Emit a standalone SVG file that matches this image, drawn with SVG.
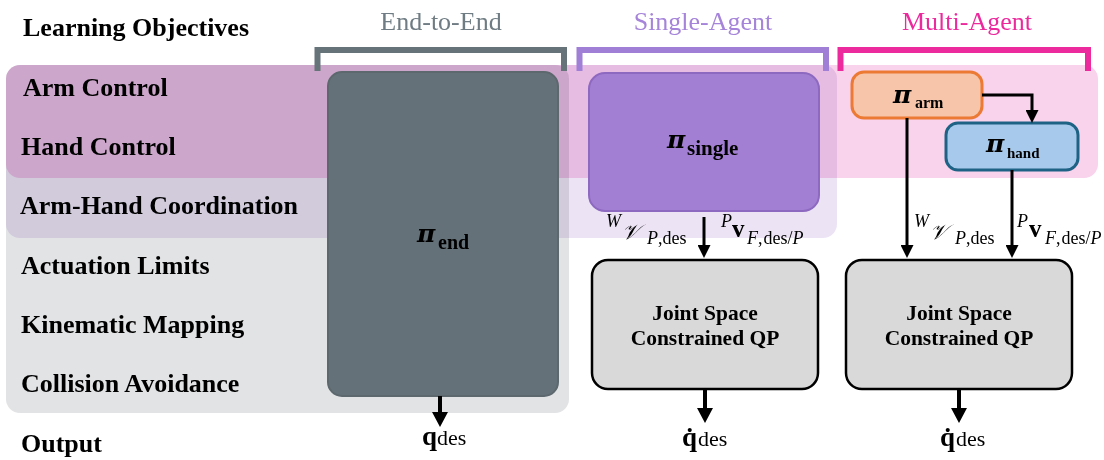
<svg xmlns="http://www.w3.org/2000/svg" width="1104" height="460" viewBox="0 0 1104 460">
<style>
.lab{font-family:"Liberation Serif",serif;font-weight:bold;font-size:26px;fill:#000}
.hdr{font-family:"Liberation Serif",serif;font-size:26px;text-anchor:middle}
.pi{font-family:"DejaVu Serif",serif;font-weight:bold;font-style:italic;font-size:25px}
.ps{font-family:"Liberation Serif",serif;font-weight:bold}
.qp{font-family:"Liberation Serif",serif;font-weight:bold;font-size:21.5px;text-anchor:middle}
.sup{font-family:"Liberation Serif",serif;font-style:italic;font-size:18px}
.sub{font-family:"Liberation Serif",serif;font-size:18px}
.it{font-style:italic}
.cal{font-family:"DejaVu Serif",serif;font-style:italic;font-size:21px}
.bv{font-family:"Liberation Serif",serif;font-weight:bold;font-size:25px}
.qb{font-family:"Liberation Serif",serif;font-weight:bold;font-size:27px}
.dsub{font-family:"Liberation Serif",serif;font-weight:normal;font-size:22px}
.band{mix-blend-mode:multiply}
.br{fill:none;stroke-width:6;stroke-linejoin:miter}
.con{fill:none;stroke:#000;stroke-width:3}
.out{fill:none;stroke:#000;stroke-width:4}
</style>
<defs>
<marker id="ah" markerUnits="userSpaceOnUse" markerWidth="13" markerHeight="13" refX="0" refY="6.5" orient="auto">
<path d="M0,0 L13,6.5 L0,13 z" fill="#000"/>
</marker>
<marker id="ahL" markerUnits="userSpaceOnUse" markerWidth="15" markerHeight="16" refX="0" refY="8" orient="auto">
<path d="M0,0 L15,8 L0,16 z" fill="#000"/>
</marker>
</defs>
<rect width="1104" height="460" fill="#fff"/>
<g id="bands">
<rect class="band" x="6" y="65" width="563" height="348" rx="14" fill="#e2e3e5"/>
<rect class="band" x="6" y="65" width="831" height="173" rx="14" fill="#ece4f5"/>
<rect class="band" x="6" y="65" width="1092" height="113" rx="14" fill="#f9d2ec"/>
</g>
<g id="labels">
<text class="lab" x="23" y="36">Learning Objectives</text>
<text class="lab" x="23" y="96">Arm Control</text>
<text class="lab" x="21" y="155">Hand Control</text>
<text class="lab" x="20" y="214">Arm-Hand Coordination</text>
<text class="lab" x="21" y="274">Actuation Limits</text>
<text class="lab" x="21" y="333">Kinematic Mapping</text>
<text class="lab" x="21" y="392">Collision Avoidance</text>
<text class="lab" x="21" y="452">Output</text>
</g>
<g id="headers">
<text class="hdr" x="441" y="30" fill="#6f7c83">End-to-End</text>
<path class="br" d="M317.5,71 V50 H564 V71" stroke="#667379"/>
<text class="hdr" x="703" y="30" fill="#a584da">Single-Agent</text>
<path class="br" d="M579.5,71 V50 H826 V71" stroke="#a07fd6"/>
<text class="hdr" x="967" y="30" fill="#ec2a9e">Multi-Agent</text>
<path class="br" d="M840.5,71 V50 H1088 V71" stroke="#ec2a9e"/>
</g>
<g id="pi-end">
<rect x="328" y="72" width="230" height="324" rx="14" fill="#657178" stroke="#5c686e" stroke-width="2"/>
<text class="pi" x="417" y="242">π</text>
<text class="ps" font-size="20" x="438" y="249">end</text>
</g>
<g id="pi-single">
<rect x="589" y="73" width="230" height="138" rx="16" fill="#a37fd3" stroke="#8e69c0" stroke-width="2"/>
<text class="pi" x="667" y="148">π</text>
<text class="ps" font-size="21" x="687" y="155">single</text>
</g>
<g id="pi-arm">
<rect x="852" y="72" width="130" height="46" rx="12" fill="#f6c5aa" stroke="#ec7a35" stroke-width="3"/>
<text class="pi" x="893" y="103">π</text>
<text class="ps" font-size="16" x="915" y="108">arm</text>
</g>
<g id="pi-hand">
<rect x="946" y="123" width="132" height="47" rx="12" fill="#a7c9eb" stroke="#1e6385" stroke-width="3"/>
<text class="pi" x="986" y="152">π</text>
<text class="ps" font-size="15" x="1007" y="158">hand</text>
</g>
<g id="qp-single">
<rect x="592" y="260" width="226" height="129" rx="16" fill="#d9d9d9" stroke="#000" stroke-width="2.5"/>
<text class="qp" x="705" y="320">Joint Space</text>
<text class="qp" x="705" y="345">Constrained QP</text>
</g>
<g id="qp-multi">
<rect x="846" y="260" width="226" height="129" rx="16" fill="#d9d9d9" stroke="#000" stroke-width="2.5"/>
<text class="qp" x="959" y="320">Joint Space</text>
<text class="qp" x="959" y="345">Constrained QP</text>
</g>
<g id="connectors">
<path class="con" d="M704,217 V245" marker-end="url(#ah)"/>
<path class="con" d="M982,95 H1032 V110" marker-end="url(#ah)"/>
<path class="con" d="M907,118 V245" marker-end="url(#ah)"/>
<path class="con" d="M1012,170 V245" marker-end="url(#ah)"/>
<path class="out" d="M440,396 V412" marker-end="url(#ahL)"/>
<path class="out" d="M705,389 V408" marker-end="url(#ahL)"/>
<path class="out" d="M959,389 V408" marker-end="url(#ahL)"/>
</g>
<g id="edge-labels">
<text class="sup" x="606" y="227">W</text>
<text class="cal" x="622" y="239">𝒱</text>
<text class="sub" x="647" y="244"><tspan class="it">P</tspan>,des</text>
<text class="sup" x="721" y="227">P</text>
<text class="bv" x="732" y="237">v</text>
<text class="sub" x="747" y="244"><tspan class="it">F</tspan>,<tspan dx="1">des/</tspan><tspan class="it">P</tspan></text>
<text class="sup" x="914" y="227">W</text>
<text class="cal" x="930" y="239">𝒱</text>
<text class="sub" x="955" y="244"><tspan class="it">P</tspan>,des</text>
<text class="sup" x="1017" y="227">P</text>
<text class="bv" x="1029" y="237">v</text>
<text class="sub" x="1045" y="244"><tspan class="it">F</tspan>,<tspan dx="1">des/</tspan><tspan class="it">P</tspan></text>
</g>
<g id="outputs">
<text class="qb" x="422" y="445">q</text>
<text class="dsub" x="437" y="445">des</text>
<text class="qb" x="682" y="446">q̇</text>
<text class="dsub" x="698" y="446">des</text>
<text class="qb" x="940" y="446">q̇</text>
<text class="dsub" x="956" y="446">des</text>
</g>
</svg>
